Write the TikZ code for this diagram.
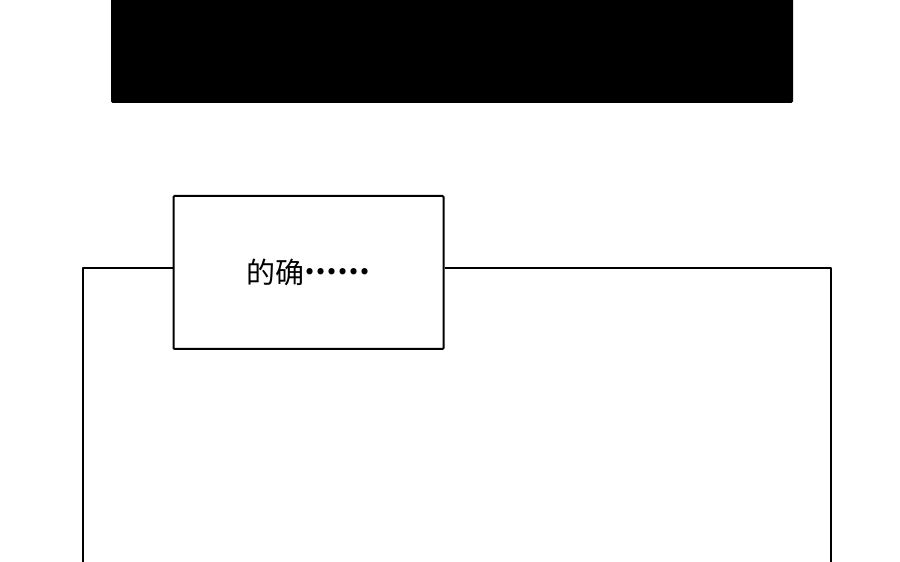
\documentclass[tikz,border=0pt]{standalone}
\usepackage{fontspec}
\newfontfamily\cjk{Noto Sans CJK SC}
\begin{document}
\begin{tikzpicture}[x=1pt,y=1pt,line width=2pt]

      \useasboundingbox (0,0) rectangle (900,562);

      \begin{scope}[every node/.style={draw,rectangle,rounded corners=1pt,inner sep=0pt}]
        \node (bar) [fill=black,minimum width=680,minimum height=104] at (452,512) {};
        \node (say) [fill=white,minimum width=270,minimum height=153,font=\cjk\fontsize{29}{32}\selectfont] at (308.5,289.5) {的确\raisebox{.3em}{\bfseries ……}};
      \end{scope}

      \coordinate (tl) at (83,294);
      \coordinate (bl) at (83,-5);
      \coordinate (tr) at (831,294);
      \coordinate (br) at (831,-5);

      \begin{scope}[every path/.style={draw,line join=round}]
        \path (say.west |- tl) -- (tl) -- (bl);
        \path (say.east |- tr) -- (tr) -- (br);
      \end{scope}

    \end{tikzpicture}
\end{document}
